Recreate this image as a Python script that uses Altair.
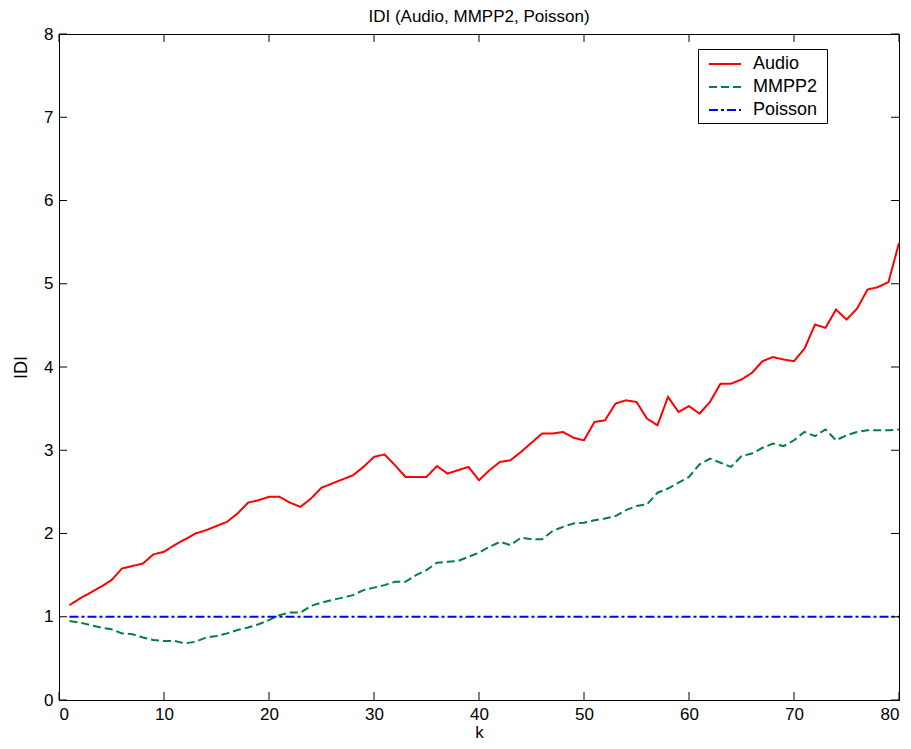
import altair as alt
import pandas as pd

k = list(range(1, 81))

audio = [
    1.14, 1.22, 1.29, 1.36, 1.44, 1.58, 1.61, 1.64, 1.75, 1.78,
    1.86, 1.93, 2.00, 2.04, 2.09, 2.14, 2.24, 2.37, 2.40, 2.44,
    2.44, 2.37, 2.32, 2.42, 2.55, 2.60, 2.65, 2.70, 2.80, 2.92,
    2.95, 2.82, 2.68, 2.68, 2.68, 2.81, 2.72, 2.76, 2.80, 2.64,
    2.76, 2.86, 2.88, 2.98, 3.09, 3.20, 3.20, 3.22, 3.15, 3.12,
    3.34, 3.36, 3.56, 3.60, 3.58, 3.38, 3.30, 3.64, 3.46, 3.53,
    3.44, 3.58, 3.80, 3.80, 3.85, 3.93, 4.07, 4.12, 4.09, 4.07,
    4.22, 4.51, 4.47, 4.69, 4.57, 4.70, 4.93, 4.96, 5.02, 5.49,
]

mmpp2 = [
    0.95, 0.93, 0.90, 0.87, 0.85, 0.80, 0.79, 0.75, 0.72, 0.71,
    0.71, 0.68, 0.70, 0.75, 0.77, 0.80, 0.84, 0.87, 0.91, 0.96,
    1.02, 1.05, 1.05, 1.13, 1.17, 1.20, 1.23, 1.26, 1.32, 1.35,
    1.38, 1.42, 1.42, 1.50, 1.56, 1.65, 1.66, 1.67, 1.72, 1.77,
    1.84, 1.90, 1.86, 1.95, 1.93, 1.93, 2.03, 2.08, 2.12, 2.13,
    2.16, 2.18, 2.21, 2.28, 2.33, 2.35, 2.49, 2.54, 2.61, 2.68,
    2.83, 2.90, 2.85, 2.80, 2.93, 2.96, 3.03, 3.08, 3.05, 3.12,
    3.22, 3.17, 3.25, 3.12, 3.18, 3.22, 3.24, 3.24, 3.24, 3.25,
]

poisson = [
    1.0, 1.0, 1.0, 1.0, 1.0, 1.0, 1.0, 1.0, 1.0, 1.0,
    1.0, 1.0, 1.0, 1.0, 1.0, 1.0, 1.0, 1.0, 1.0, 1.0,
    1.0, 1.0, 1.0, 1.0, 1.0, 1.0, 1.0, 1.0, 1.0, 1.0,
    1.0, 1.0, 1.0, 1.0, 1.0, 1.0, 1.0, 1.0, 1.0, 1.0,
    1.0, 1.0, 1.0, 1.0, 1.0, 1.0, 1.0, 1.0, 1.0, 1.0,
    1.0, 1.0, 1.0, 1.0, 1.0, 1.0, 1.0, 1.0, 1.0, 1.0,
    1.0, 1.0, 1.0, 1.0, 1.0, 1.0, 1.0, 1.0, 1.0, 1.0,
    1.0, 1.0, 1.0, 1.0, 1.0, 1.0, 1.0, 1.0, 1.0, 1.0,
]

series_names = ["Audio", "MMPP2", "Poisson"]
series_colors = ["#ff0000", "#00803f", "#0000ff"]
series_dashes = [[1, 0], [8, 4], [9, 3, 3, 3]]

x_ticks = [0, 10, 20, 30, 40, 50, 60, 70, 80]
y_ticks = [0, 1, 2, 3, 4, 5, 6, 7, 8]

FONT = "Liberation Sans"
W, H = 840, 666

rows = []
for name, vals in zip(series_names, [audio, mmpp2, poisson]):
    for kk, v in zip(k, vals):
        rows.append({"k": kk, "IDI": v, "series": name})
df = pd.DataFrame(rows)

xscale = alt.Scale(domain=[0, 80], nice=False, zero=False)
yscale = alt.Scale(domain=[0, 8], nice=False, zero=False)

leg = alt.Legend(title="\u00a0", titleOrient="right", titlePadding=6,
                 titleFontSize=18, titleFont=FONT,
                 orient="none", legendX=639, legendY=15)

lines = alt.Chart(df).mark_line(strokeWidth=2).encode(
    x=alt.X("k:Q", scale=xscale, title="k",
            axis=alt.Axis(values=x_ticks, format="d", tickSize=0, labelPadding=6,
                          grid=False, titleY=41, titleBaseline="bottom",
                          titleFontSize=17)),
    y=alt.Y("IDI:Q", scale=yscale, title="IDI",
            axis=alt.Axis(values=y_ticks, format="d", tickSize=0, labelPadding=6,
                          grid=False, titleX=-38, titleBaseline="middle")),
    color=alt.Color("series:N",
                    scale=alt.Scale(domain=series_names, range=series_colors),
                    legend=leg),
    strokeDash=alt.StrokeDash("series:N",
                              scale=alt.Scale(domain=series_names, range=series_dashes),
                              legend=leg),
)

xt = pd.DataFrame({"v": x_ticks})
yt = pd.DataFrame({"v": y_ticks})

xb = alt.Chart(xt).mark_rule(color="black", strokeWidth=1).encode(
    x=alt.X("v:Q", scale=xscale),
    y=alt.value(H), y2=alt.value(H - 8))
xtp = alt.Chart(xt).mark_rule(color="black", strokeWidth=1).encode(
    x=alt.X("v:Q", scale=xscale),
    y=alt.value(0), y2=alt.value(8))
yl = alt.Chart(yt).mark_rule(color="black", strokeWidth=1).encode(
    y=alt.Y("v:Q", scale=yscale),
    x=alt.value(0), x2=alt.value(8))
yr = alt.Chart(yt).mark_rule(color="black", strokeWidth=1).encode(
    y=alt.Y("v:Q", scale=yscale),
    x=alt.value(W), x2=alt.value(W - 8))

chart = alt.layer(lines, xb, xtp, yl, yr).properties(
    width=W, height=H,
    title=alt.TitleParams("IDI (Audio, MMPP2, Poisson)", fontSize=17,
                          font=FONT, fontWeight="normal", anchor="middle",
                          offset=-1, color="black"),
    autosize=alt.AutoSizeParams(type="none"),
    padding={"left": 51, "top": 26, "right": 4, "bottom": 41},
).configure_view(
    stroke="black", strokeWidth=1
).configure_axis(
    labelFont=FONT, titleFont=FONT, labelFontSize=17, titleFontSize=18,
    titleFontWeight="normal", labelColor="black", titleColor="black",
    domainColor="black", domainWidth=1,
).configure_legend(
    labelFont=FONT, labelFontSize=18, labelColor="black",
    symbolType="M-1.6,0H1.6", symbolSize=400, symbolStrokeWidth=2,
    symbolOffset=12,
    strokeColor="black", fillColor="white", padding=4,
    rowPadding=3, labelOffset=17, cornerRadius=0,
)

chart.save("out.html", embed_options={"renderer": "svg", "actions": False})
